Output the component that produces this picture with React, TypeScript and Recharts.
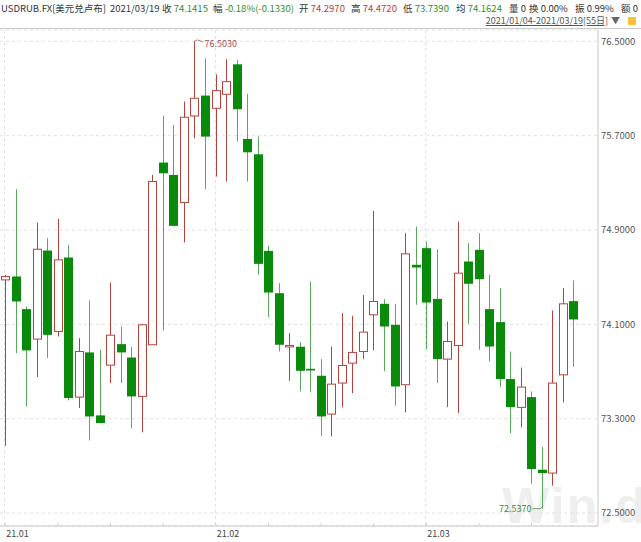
import React from 'react';
import { ComposedChart, Bar, XAxis, YAxis, CartesianGrid } from 'recharts';

// USDRUB daily candles, 2021/01/04 - 2021/03/19 (55 trading days)
const opens = [
  74.477, 74.506, 74.229, 73.975, 74.726, 74.04, 74.667, 73.483, 73.862, 73.328,
  73.754, 73.932, 73.819, 73.489, 73.927, 75.472, 75.367, 75.133, 75.867, 76.04,
  75.932, 76.051, 76.305, 75.672, 75.542, 74.723, 74.364, 73.912, 73.91, 73.723,
  73.664, 73.339, 73.602, 73.771, 73.87, 74.181, 74.274, 74.096, 73.588, 74.605,
  74.746, 74.316, 73.805, 73.921, 74.633, 74.732, 74.229, 74.119, 73.636, 73.396,
  73.483, 72.867, 72.839, 73.672, 74.297,
];
const highs = [
  74.52, 75.246, 74.251, 74.963, 74.831, 74.994, 74.774, 73.983, 74.302, 73.884,
  74.455, 74.082, 73.907, 74.105, 75.367, 75.867, 75.791, 75.989, 76.503, 76.356,
  76.22, 76.347, 76.342, 76.054, 75.692, 74.766, 74.449, 74.025, 73.949, 74.463,
  73.805, 73.912, 74.195, 74.172, 74.35, 75.062, 74.314, 74.274, 74.873, 74.929,
  74.802, 74.737, 74.124, 74.972, 74.788, 74.873, 74.52, 74.407, 73.87, 73.734,
  73.531, 73.059, 74.218, 74.407, 74.472,
];
const lows = [
  73.071, 73.856, 73.404, 73.653, 73.814, 73.997, 73.455, 73.39, 73.116, 73.26,
  73.602, 73.602, 73.22, 73.184, 73.927, 74.048, 74.935, 74.794, 75.678, 75.246,
  75.353, 75.311, 75.65, 75.311, 74.52, 74.161, 73.87, 73.621, 73.531, 73.523,
  73.155, 73.15, 73.396, 73.517, 73.805, 73.879, 73.701, 73.41, 73.353, 74.266,
  73.89, 73.602, 73.398, 73.347, 74.105, 73.884, 73.785, 73.568, 73.178, 73.226,
  72.749, 72.537, 72.732, 73.438, 73.739,
];
const closes = [
  74.506, 74.294, 73.879, 74.737, 74.011, 74.647, 73.475, 73.87, 73.319, 73.263,
  74.008, 73.862, 73.489, 74.096, 75.311, 75.381, 74.935, 75.856, 76.017, 75.692,
  76.082, 76.158, 75.924, 75.559, 74.613, 74.37, 73.927, 73.921, 73.706, 73.709,
  73.319, 73.593, 73.751, 73.862, 74.034, 74.294, 74.082, 73.573, 74.698, 74.582,
  74.285, 73.805, 73.955, 74.534, 74.444, 74.483, 73.912, 73.636, 73.398, 73.568,
  72.873, 72.839, 73.602, 74.274, 74.1415,
];

const monthStarts = [0, 20, 40];
const monthLabels = ['21.01', '21.02', '21.03'];
const weekTicks = [0, 5, 10, 15, 20, 25, 30, 35, 40, 45, 50];
const yTicks = [72.5, 73.3, 74.1, 74.9, 75.7, 76.5];

const data = opens.map((o, i) => ({
  i,
  open: o,
  high: highs[i],
  low: lows[i],
  close: closes[i],
}));

const maxHigh = Math.max(...highs);
const minLow = Math.min(...lows);

const UP = '#b5433d';
const DOWN = '#0a8a0a';
const DOWN_WICK = '#5aa85a';
const GRID = '#e0e0e0';
const FONT = "'Noto Sans CJK SC', 'Noto Sans', sans-serif";

function Candle(props: any) {
  const { x, y, width, height, payload, background } = props;
  const top = Math.min(y, y + height);
  const h = Math.abs(height);
  const { open, close, high, low } = payload;
  const range = high - low || 1;
  const toY = (v: number) => top + ((high - v) / range) * h;
  const cx = Math.round(x + width / 2) + 0.5;
  const up = close >= open;
  const bTop = toY(Math.max(open, close));
  const bBot = toY(Math.min(open, close));
  const bh = Math.max(bBot - bTop, 1.5);
  const bottom = top + h;
  const half = 4;
  const monthLine = monthStarts.includes(payload.i) && background;

  return (
    <g>
      {monthLine && (
        <line
          x1={cx - 1}
          x2={cx - 1}
          y1={background.y}
          y2={background.y + background.height}
          stroke={GRID}
          strokeDasharray="3 3"
        />
      )}
      {up ? (
        <>
          <line x1={cx} x2={cx} y1={top} y2={bTop} stroke={UP} strokeWidth={1} />
          <line x1={cx} x2={cx} y1={bTop + bh} y2={bottom} stroke={UP} strokeWidth={1} />
          <rect x={cx - half} y={bTop} width={half * 2} height={bh} fill="#fff" stroke={UP} strokeWidth={1} />
        </>
      ) : (
        <>
          <line x1={cx} x2={cx} y1={top} y2={bottom} stroke={DOWN_WICK} strokeWidth={1} />
          <rect x={cx - half - 0.5} y={bTop} width={half * 2 + 1} height={bh} fill={DOWN} />
        </>
      )}
      {high === maxHigh && (
        <>
          <polyline points={`${cx},${top} ${cx + 3},${top - 1} ${cx + 9},${top + 1}`} fill="none" stroke="#a06060" strokeWidth={0.8} />
          <text x={cx + 10} y={top + 6} fontSize={9} fill="#a05050" fontFamily={FONT}>
            {high.toFixed(4)}
          </text>
        </>
      )}
      {low === minLow && (
        <>
          <polyline points={`${cx - 10},${bottom} ${cx - 2},${bottom} ${cx},${bottom - 2}`} fill="none" stroke="#4a8a4a" strokeWidth={0.8} />
          <text x={cx - 11} y={bottom + 3} fontSize={9} fill="#3a8a3a" textAnchor="end" fontFamily={FONT}>
            {low.toFixed(4)}
          </text>
        </>
      )}
    </g>
  );
}

function WeekTick(props: any) {
  const { x, y, payload } = props;
  const k = monthStarts.indexOf(payload.value);
  return (
    <g>
      <line x1={x} x2={x} y1={y - 3} y2={y} stroke="#ccc" />
      {k >= 0 && (
        <text x={x + 1} y={y + 11} fontSize={9} fill="#444" fontFamily={FONT}>
          {monthLabels[k]}
        </text>
      )}
    </g>
  );
}

const hdr: React.CSSProperties = { position: 'absolute', top: 1, fontSize: 9.5, whiteSpace: 'nowrap', color: '#333' };
const G = '#2f8f2f';
const R = '#c23a3a';

export default function App() {
  return (
    <div style={{ position: 'absolute', left: 0, top: 0, width: 641, height: 542, background: '#fff', overflow: 'hidden', fontFamily: FONT }}>
      {/* header line */}
      <span style={{ ...hdr, left: 1 }}>USDRUB.FX[美元兑卢布]</span>
      <span style={{ ...hdr, left: 110 }}>2021/03/19</span>
      <span style={{ ...hdr, left: 162 }}>收 <span style={{ color: G }}>74.1415</span></span>
      <span style={{ ...hdr, left: 213 }}>幅 <span style={{ color: G }}>-0.18%(-0.1330)</span></span>
      <span style={{ ...hdr, left: 299 }}>开 <span style={{ color: R }}>74.2970</span></span>
      <span style={{ ...hdr, left: 351 }}>高 <span style={{ color: R }}>74.4720</span></span>
      <span style={{ ...hdr, left: 403 }}>低 <span style={{ color: G }}>73.7390</span></span>
      <span style={{ ...hdr, left: 456 }}>均 <span style={{ color: G }}>74.1624</span></span>
      <span style={{ ...hdr, left: 509 }}>量 0</span>
      <span style={{ ...hdr, left: 529 }}>换 0.00%</span>
      <span style={{ ...hdr, left: 575 }}>振 0.99%</span>
      <span style={{ ...hdr, left: 621 }}>额 0</span>

      {/* range line */}
      <span style={{ position: 'absolute', top: 14, right: 33, fontSize: 9, color: '#555', textDecoration: 'underline', whiteSpace: 'nowrap' }}>
        2021/01/04-2021/03/19[55日]
      </span>
      <span style={{ position: 'absolute', top: 14, left: 611, fontSize: 9, color: '#666' }}>▼</span>
      <span style={{ position: 'absolute', top: 17, left: 628, width: 8, height: 8, background: '#f3c23a', borderRadius: 1 }} />
      <div style={{ position: 'absolute', top: 28, left: 0, width: 641, height: 1, background: '#c8c8c8' }} />

      {/* watermark */}
      <div style={{ position: 'absolute', left: 502, top: 477, fontSize: 50, fontWeight: 700, color: '#eeeeee', fontFamily: "'Liberation Sans', sans-serif", letterSpacing: 2, whiteSpace: 'nowrap' }}>
        Win.d
      </div>

      <div style={{ position: 'absolute', left: 0, top: 0 }}>
        <ComposedChart width={641} height={542} data={data} margin={{ top: 30, right: 0, bottom: 0, left: 0 }}>
          <CartesianGrid vertical={false} stroke={GRID} strokeDasharray="3 3" />
          <XAxis
            dataKey="i"
            type="category"
            height={16}
            padding={{ left: 0, right: 19 }}
            ticks={weekTicks}
            interval={0}
            tick={<WeekTick />}
            tickLine={false}
            tickSize={0}
            tickMargin={0}
            axisLine={{ stroke: '#c8c8c8' }}
          />
          <YAxis
            orientation="right"
            width={43}
            domain={[72.39, 76.596]}
            ticks={yTicks}
            allowDataOverflow
            tickFormatter={(v: number) => v.toFixed(4)}
            tick={{ fontSize: 9.5, fill: '#555', fontFamily: FONT }}
            tickLine={false}
            tickSize={0}
            tickMargin={3}
            axisLine={{ stroke: '#c8c8c8' }}
          />
          <Bar dataKey={(d: any) => [d.low, d.high]} barSize={8} shape={<Candle />} isAnimationActive={false} />
        </ComposedChart>
      </div>
    </div>
  );
}
